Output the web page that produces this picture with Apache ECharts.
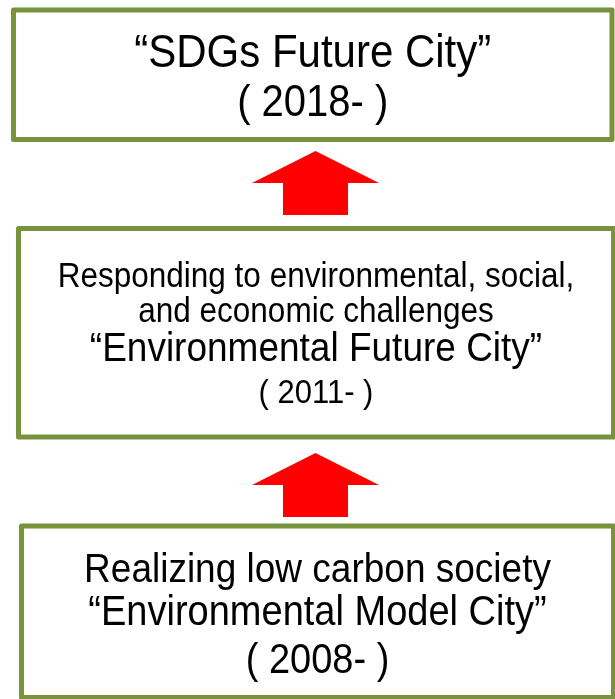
<!DOCTYPE html>
<html>
<head>
<meta charset="utf-8">
<script src="https://cdn.jsdelivr.net/npm/echarts@6/dist/echarts.min.js"></script>
<style>
  html, body { margin: 0; padding: 0; background: #fff; }
  #main { width: 615px; height: 699px; }
</style>
</head>
<body>
<div id="main"></div>
<script>
// stages, top (newest) to bottom (oldest)
const stageNames = ['\u201cSDGs Future City\u201d', '\u201cEnvironmental Future City\u201d', '\u201cEnvironmental Model City\u201d']
const stageNotes = [
  [],
  ['Responding to environmental, social,', 'and economic challenges'],
  ['Realizing low carbon society']
]
const stageYears = ['2018', '2011', '2008']

// layout (px)
const boxes = [
  { x1: 13.5, y1: 10, x2: 612, y2: 139.5, noteSize: 0, nameSize: 42, yearSize: 40, lines: [54, 104] },
  { x1: 18.5, y1: 228.5, x2: 613.5, y2: 437, noteSize: 31.5, nameSize: 37, yearSize: 31, lines: [277, 312, 350, 394] },
  { x1: 21.5, y1: 526, x2: 613.5, y2: 697.5, noteSize: 37, nameSize: 38, yearSize: 38, lines: [571, 613, 661] }
]
const arrowTips = [151, 453]
const font = '"Liberation Sans", Arial, sans-serif'
const borderColor = '#77933C'
const textStretch = 1.1

const chart = echarts.init(document.getElementById('main'), null, { renderer: 'canvas' })

const elements = []
boxes.forEach(function (b, i) {
  elements.push({
    type: 'rect',
    shape: { x: b.x1, y: b.y1, width: b.x2 - b.x1, height: b.y2 - b.y1 },
    style: { fill: '#fff', stroke: borderColor, lineWidth: 5, lineJoin: 'round' }
  })
  const cx = (b.x1 + b.x2) / 2
  const rows = []
  stageNotes[i].forEach(function (t) { rows.push({ text: t, size: b.noteSize }) })
  rows.push({ text: stageNames[i], size: b.nameSize })
  rows.push({ text: '( ' + stageYears[i] + '- )', size: b.yearSize })
  rows.forEach(function (r, k) {
    elements.push({
      type: 'text',
      x: cx,
      y: b.lines[k],
      scaleY: textStretch,
      style: {
        text: r.text,
        fill: '#000',
        font: r.size + 'px ' + font,
        align: 'center',
        verticalAlign: 'middle'
      }
    })
  })
})

arrowTips.forEach(function (tip) {
  const cx = 315.5
  elements.push({
    type: 'polygon',
    shape: {
      points: [
        [cx, tip],
        [cx + 63.5, tip + 32],
        [cx + 32.5, tip + 32],
        [cx + 32.5, tip + 64],
        [cx - 32.5, tip + 64],
        [cx - 32.5, tip + 32],
        [cx - 63.5, tip + 32]
      ]
    },
    style: { fill: '#FF0000' }
  })
})

chart.setOption({
  backgroundColor: '#fff',
  animation: false,
  graphic: { elements: elements }
})
</script>
</body>
</html>
